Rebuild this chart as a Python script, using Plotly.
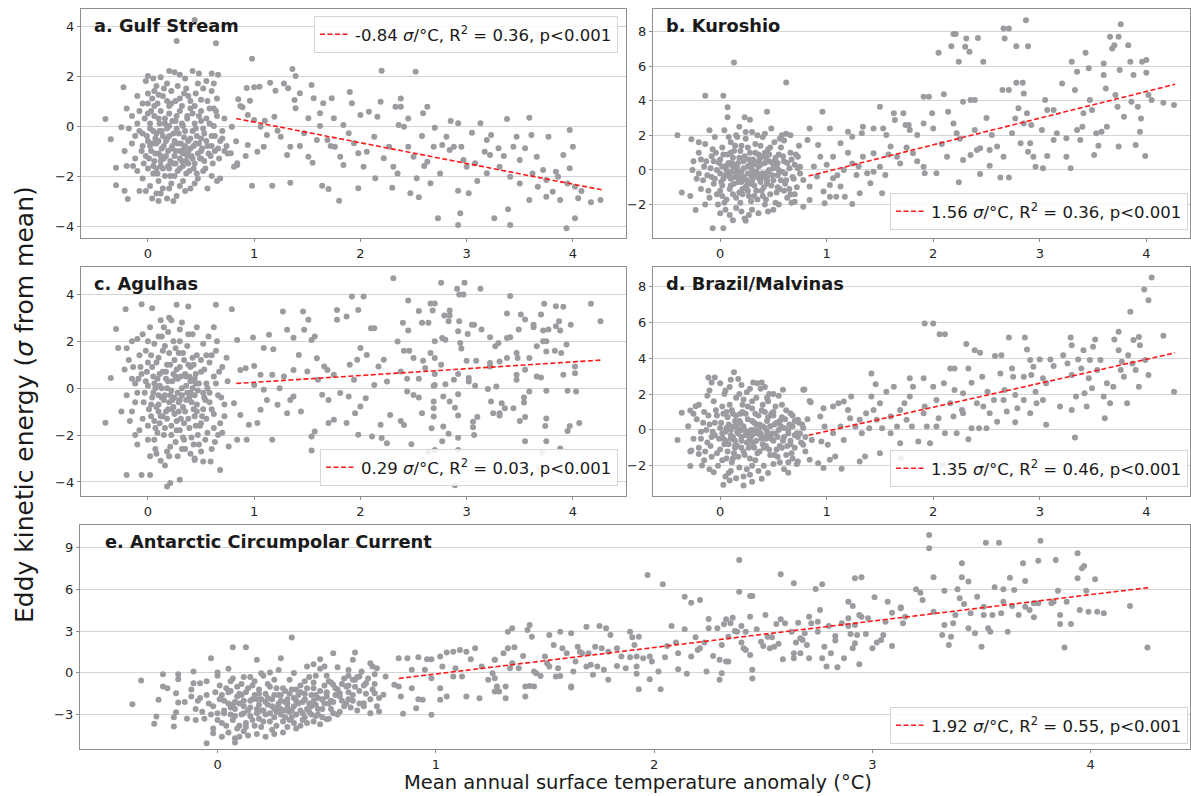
import plotly.graph_objects as go

# ---------------- data ----------------
x_ticks = [0, 1, 2, 3, 4]

gulf_stream = [
 (-0.40,0.28),(-0.35,-0.53),(-0.30,-2.37),(-0.30,-1.67),(-0.23,1.55),(-0.22,-2.59),(-0.19,-2.92),
 (0.27,3.40),(0.44,4.24),(0.64,3.31),(0.98,2.69),(1.36,2.28),(1.39,2.00),(2.20,2.21),(1.80,-2.99),
 (1.70,-2.52),(0.98,-2.39),(1.17,-2.39),(1.34,-2.27),(1.64,-2.39),(1.98,-2.49),(2.14,-2.09),(2.30,-2.47),(2.35,-1.90),
 (0.0,2.0),(0.05,1.9),(0.12,1.95),(0.2,2.2),(0.25,2.15),(0.3,2.05),(0.35,1.9),(0.42,2.2),(0.48,2.1),(0.55,1.8),
 (0.6,2.1),(0.66,2.05),(-0.02,1.8),(0.08,1.6),(0.15,1.5),(0.22,1.4),(0.28,1.6),(0.36,1.5),(0.45,1.3),(0.52,1.5),
 (0.6,1.4),(0.65,1.1),(0.0,1.3),(0.04,1.1),(0.1,1.25),(0.18,1.0),(0.3,1.1),(0.4,1.0),(0.5,1.05),(-0.1,1.2),
 (-0.05,0.9),(0.62,0.7),(-0.2,0.7),(-0.15,0.4),(-0.1,0.1),(-0.08,0.6),(0.0,0.5),(0.02,0.1),(0.06,0.8),(0.1,0.3),
 (0.12,0.6),(0.16,0.1),(0.2,0.5),(0.22,0.9),(0.26,0.2),(0.3,0.6),(0.33,0.0),(0.37,0.4),(0.4,0.7),(0.44,0.1),
 (0.48,0.4),(0.52,-0.1),(0.55,0.3),(0.58,0.7),(0.62,0.0),(0.65,0.4),(0.7,-0.2),(0.72,0.3),(-0.05,-0.3),(0.05,-0.2),
 (0.14,-0.4),(0.24,-0.3),(0.34,-0.45),(0.42,-0.2),(0.5,-0.5),(0.6,-0.4),(0.68,-0.6),(-0.18,-0.1),(-0.25,-0.05),
 (-0.22,-1.0),(-0.15,-0.7),(-0.12,-1.3),(-0.05,-0.8),(-0.02,-1.2),(0.0,-0.6),(0.03,-1.0),(0.06,-1.4),(0.08,-0.7),
 (0.1,-1.1),(0.13,-0.9),(0.15,-1.3),(0.17,-0.6),(0.19,-1.0),(0.21,-1.4),(0.23,-0.8),(0.25,-1.2),(0.28,-0.7),
 (0.3,-1.0),(0.32,-1.4),(0.35,-0.8),(0.37,-1.2),(0.4,-0.9),(0.42,-1.3),(0.45,-0.7),(0.47,-1.1),(0.5,-1.0),
 (0.53,-1.4),(0.56,-0.8),(0.59,-1.2),(0.63,-1.0),(0.67,-1.3),(0.72,-1.0),(0.75,-1.1),(-0.2,-1.6),(-0.1,-1.8),
 (-0.05,-2.1),(0.0,-1.7),(0.02,-2.4),(0.05,-1.9),(0.08,-2.7),(0.1,-2.2),(0.12,-1.6),(0.14,-2.5),(0.16,-2.0),
 (0.18,-2.9),(0.2,-1.7),(0.22,-2.3),(0.25,-2.0),(0.27,-2.8),(0.3,-1.7),(0.33,-2.2),(0.36,-1.9),(0.4,-2.5),
 (0.43,-1.7),(0.47,-2.1),(0.52,-1.8),(0.6,-2.0),(0.65,-2.2),(0.68,-2.1),(0.04,-2.9),(0.1,-3.0),(0.24,-3.0),
 (-0.08,-2.6),(0.35,-2.6),(0.07,-0.5),(0.11,-0.2),(0.18,-0.5),(0.27,-0.1),(0.38,-0.6),(0.46,-0.4),(0.02,-0.8),
 (0.12,-1.2),(0.26,-1.5),(0.38,-1.5),(0.5,-1.3),(0.2,0.0),(0.08,-1.7),(0.33,-1.1),
 (-0.08,-0.2),(-0.06,-1.0),(-0.04,-1.5),(-0.03,0.3),(-0.01,-0.4),(0.01,-1.3),(0.02,-0.1),(0.04,-0.7),(0.05,-1.6),
 (0.06,0.4),(0.07,-1.1),(0.08,-0.3),(0.09,-1.9),(0.1,-0.6),(0.11,0.1),(0.12,-1.4),(0.13,-0.2),(0.14,-1.7),
 (0.15,-0.8),(0.16,0.3),(0.17,-1.2),(0.18,-0.1),(0.19,-1.6),(0.2,-0.4),(0.21,-2.0),(0.22,-0.9),(0.23,0.2),
 (0.24,-1.5),(0.25,-0.6),(0.26,-1.0),(0.27,0.4),(0.28,-1.8),(0.29,-0.3),(0.3,-1.3),(0.31,-0.7),(0.32,0.1),
 (0.33,-1.6),(0.34,-0.9),(0.35,-0.2),(0.36,-1.4),(0.37,0.3),(0.38,-1.0),(0.39,-1.8),(0.4,-0.5),(0.41,-1.2),
 (0.42,0.5),(0.43,-0.8),(0.44,-1.5),(0.45,-0.1),(0.46,-1.9),(0.48,-0.7),(0.49,-1.3),(0.5,0.2),(0.51,-0.9),
 (0.53,-0.3),(0.54,-1.7),(0.55,-0.6),(0.57,-1.1),(0.58,0.1),(0.6,-0.8),(0.61,-1.5),(0.63,-0.4),(0.64,0.6),
 (0.66,-0.9),(0.7,-0.5),(0.74,-0.8),(0.0,0.9),(0.06,1.4),(0.14,1.2),(0.2,0.8),(0.26,1.0),(0.32,0.8),(0.38,1.2),
 (0.44,0.8),(0.5,0.6),(0.56,1.0),(-0.12,-0.4),(-0.14,-1.6),(-0.02,-2.6),(0.12,-2.7),(0.2,-2.5),(0.3,-2.4),
 (0.44,-2.3),(0.56,-2.5),(0.03,0.6),(0.09,0.9),(0.18,1.7),(0.34,1.3),(0.47,1.7),(0.62,1.7),
 (0.85,1.07),(0.87,0.8),(0.89,0.75),(0.93,1.52),(0.96,1.01),(1.0,1.55),(1.05,1.57),(0.94,0.44),(1.0,0.24),
 (1.1,0.21),(1.15,1.73),(1.2,1.41),(1.28,1.7),(1.32,1.51),(1.38,1.04),(1.43,1.31),(1.54,1.64),(1.56,1.11),
 (1.65,0.91),(1.73,1.11),(1.9,1.36),(1.92,0.91),(2.0,0.44),(2.08,0.57),(2.16,0.37),(2.19,0.97),(2.33,0.77),
 (0.79,-0.03),(0.83,-0.61),(0.84,-1.49),(0.84,-1.56),(0.92,-1.2),(0.94,-0.76),(1.03,-1.03),(1.09,-0.83),
 (1.12,-0.36),(1.22,-0.19),(1.25,-0.43),(1.31,-1.16),(1.34,-0.83),(1.43,-0.8),(1.47,-0.29),(1.51,-1.23),
 (1.55,-1.47),(1.59,-0.56),(1.62,0.0),(1.69,-0.56),(1.72,-0.8),(1.76,-0.83),(1.81,-1.23),(1.84,-1.56),
 (1.89,-0.29),(1.94,-0.69),(1.98,-1.09),(2.03,-1.63),(2.06,-1.03),(2.13,-0.43),(2.22,-1.29),(2.27,-0.83),
 (2.31,-1.63),(2.36,0.04),(1.39,0.71),(1.51,0.31),(1.62,0.51),(1.75,0.31),(1.84,0.04),(1.06,-0.03),(1.19,0.37),
 (0.78,-1.09),(0.81,-1.63),
 (2.52,2.17),(2.38,1.1),(2.38,0.77),(2.41,-0.03),(2.59,0.51),(2.63,0.77),(2.7,-0.07),(2.45,-0.83),(2.5,-1.23),
 (2.53,-2.09),(2.47,-2.69),(2.55,-2.85),(2.66,-2.29),(2.73,-3.69),(2.63,-1.43),(2.69,-0.83),(2.77,-0.76),
 (2.81,-0.43),(2.88,-0.83),(2.92,0.11),(2.94,-3.49),(2.92,-3.96),(2.92,-2.59),(3.02,-2.69),(3.05,-0.27),
 (3.13,0.11),(3.08,-1.49),(3.0,-1.63),(3.19,-1.89),(3.23,-0.36),(3.26,-3.69),(3.3,-0.89),(3.31,-1.63),
 (3.38,0.28),(3.41,-3.96),(3.39,-3.33),(3.47,-0.43),(3.44,-0.83),(3.5,-1.36),(3.59,0.33),(3.55,-0.89),
 (3.61,-0.36),(3.66,-1.23),(3.67,-2.43),(3.59,-2.96),(3.75,-2.83),(3.75,-2.16),(3.72,-1.76),(3.77,-0.43),
 (3.84,-1.83),(3.88,-2.96),(3.91,-1.16),(3.94,-4.09),(3.97,-0.16),(3.97,-1.69),(4.0,-0.83),(4.02,-2.43),
 (4.02,-3.69),(4.05,-2.89),(4.08,-2.6),(4.17,-3.05),(4.26,-2.96),(3.86,-2.03),(3.81,-2.63),(3.41,-2.03),
 (3.17,-1.03),(3.22,-1.16),(2.84,-0.96),(2.97,-1.36),(3.19,-0.56),(2.95,-0.83),(2.6,-1.6),(2.75,-1.9),
 (3.1,-2.2),(3.5,-2.3),(3.62,-1.9),(2.45,0.3),(2.85,0.2),(3.35,-1.2),(3.95,-2.3),(2.58,-0.4),
]

kuroshio = [
 (0.13,6.21),(0.03,4.29),(-0.14,4.29),(0.07,3.62),(0.07,3.04),(0.62,5.06),(0.44,3.37),(0.23,3.04),(0.28,2.9),
 (-0.4,2.0),(-0.27,1.77),(-0.36,-1.3),(-0.23,-2.31),(0.03,-3.37),(-0.07,-3.37),(0.24,-2.94),
 (-0.25,0.5),(-0.22,-0.5),(-0.2,1.0),(-0.18,-1.1),(-0.15,0.2),(-0.14,1.5),(-0.12,-0.3),(-0.1,-1.6),(-0.08,0.8),
 (-0.06,-0.8),(-0.05,1.9),(-0.03,0.0),(-0.02,-2.0),(0.0,0.6),(0.0,-1.2),(0.02,1.3),(0.03,-0.5),(0.04,2.3),
 (0.05,0.2),(0.06,-1.7),(0.07,0.9),(0.08,-0.2),(0.09,-2.6),(0.1,1.6),(0.1,-0.9),(0.11,0.4),(0.12,-1.4),
 (0.13,1.1),(0.14,-0.4),(0.15,2.0),(0.15,-2.2),(0.16,0.1),(0.17,-0.7),(0.18,0.7),(0.19,-1.9),(0.2,1.4),
 (0.2,-0.1),(0.21,-1.1),(0.22,0.5),(0.23,-2.8),(0.24,1.8),(0.25,-0.6),(0.26,0.2),(0.27,-1.5),(0.28,1.0),
 (0.29,-0.3),(0.3,2.2),(0.3,-2.3),(0.31,0.6),(0.32,-0.9),(0.33,1.5),(0.34,-0.1),(0.35,-1.7),(0.36,0.9),
 (0.37,-0.5),(0.38,0.3),(0.39,-1.2),(0.4,1.9),(0.41,-0.2),(0.42,-2.0),(0.43,0.7),(0.44,-0.8),(0.45,1.2),
 (0.46,0.0),(0.47,-1.4),(0.48,2.4),(0.49,0.4),(0.5,-0.6),(0.51,1.6),(0.52,-1.9),(0.53,0.2),(0.54,-0.3),
 (0.55,0.9),(0.56,-1.1),(0.57,1.3),(0.58,-0.1),(0.6,0.5),(0.61,-0.8),(0.62,2.1),(0.63,-1.6),(0.65,0.1),
 (0.66,1.0),(0.68,-0.4),(0.7,0.3),(0.72,-1.0),(0.74,1.4),(0.75,-0.2),(-0.28,-1.5),(-0.26,0.0),(-0.1,2.3),
 (0.05,-2.3),(0.12,-2.9),(0.18,2.5),(0.27,-2.6),(0.35,2.0),(0.45,-2.4),(0.55,-2.0),(0.58,2.0),(0.67,-1.9),
 (0.0,-0.2),(0.08,0.4),(0.14,0.3),(0.22,-0.4),(0.3,0.0),(0.38,-0.7),(0.46,0.5),(0.54,-1.0),(0.62,-0.6),
 (-0.04,1.0),(0.02,-0.9),(0.1,-0.5),(0.18,-1.3),(0.26,1.3),(0.34,0.4),(0.42,1.0),(0.5,0.1),(0.6,1.7),
 (0.7,-1.4),(0.02,-1.5),(0.24,-1.0),(0.4,-1.5),(-0.18,0.6),(-0.2,-0.2),(0.16,1.9),(0.44,-0.4),(0.52,0.7),
 (0.06,0.0),(0.32,-0.3),(0.12,0.2),(0.28,-0.8),(0.36,0.2),(0.4,-0.4),(0.2,-0.7),(-0.08,-0.4),(0.16,-0.2),
 (-0.16,-0.6),(-0.13,0.5),(-0.11,-1.2),(-0.09,0.1),(-0.07,1.2),(-0.05,-0.5),(-0.03,-1.4),(-0.01,0.4),(0.01,-0.7),
 (0.03,0.9),(0.04,-1.9),(0.05,-0.3),(0.07,0.3),(0.09,-1.1),(0.1,1.0),(0.11,-0.1),(0.13,-0.8),(0.14,1.4),
 (0.15,-1.6),(0.17,0.4),(0.18,-0.4),(0.19,1.1),(0.21,-1.4),(0.22,0.1),(0.23,0.8),(0.25,-0.9),(0.26,-0.2),
 (0.27,0.6),(0.29,-1.8),(0.3,-0.6),(0.31,0.3),(0.33,1.0),(0.34,-1.2),(0.35,-0.4),(0.37,0.6),(0.38,1.4),
 (0.39,-0.2),(0.41,-1.0),(0.42,0.4),(0.43,-1.7),(0.45,-0.1),(0.46,0.9),(0.48,-0.9),(0.49,-0.3),(0.51,0.5),
 (0.53,-1.3),(0.55,0.0),(0.57,-0.6),(0.59,0.8),(0.61,-0.2),(0.63,0.4),(0.65,-1.1),(0.67,0.6),(0.69,-0.5),
 (0.71,0.9),(0.73,0.1),(-0.14,-2.0),(0.0,-2.5),(0.2,-2.4),(0.36,-2.5),(0.5,-2.3),(0.08,1.9),(0.24,2.2),
 (0.42,2.1),(0.56,1.8),(-0.2,1.6),(0.66,-1.4),(0.12,0.7),(0.28,0.3),(0.44,-0.6),(0.02,0.2),(0.16,-0.1),
 (0.32,-1.5),(0.47,1.3),(0.6,-1.2),(-0.06,0.5),(0.09,-0.4),(0.26,-1.2),(0.4,0.8),(0.54,0.4),
 (0.96,3.37),(1.03,2.4),(0.84,2.4),(0.66,2.0),(0.82,1.73),(0.92,1.44),(0.94,0.77),(1.06,0.77),(1.13,1.54),
 (1.2,2.21),(1.24,1.92),(1.33,2.12),(1.34,2.5),(1.44,2.4),(1.5,3.65),(1.53,2.4),(1.56,2.02),(1.6,1.35),
 (1.63,3.27),(1.64,2.88),(1.72,3.27),(1.74,2.6),(1.77,2.6),(1.78,2.31),(1.85,2.02),(1.91,2.69),(1.91,4.23),
 (1.96,4.23),(1.99,3.27),(2.0,2.4),(2.05,6.77),(2.1,4.38),(2.17,7.15),(2.19,7.85),(2.21,7.85),(2.24,6.25),
 (2.14,3.37),(2.19,2.69),(2.22,2.12),(2.24,-0.71),(2.28,3.94),(2.3,7.12),(2.31,7.6),(2.34,6.83),(2.35,4.04),
 (2.39,4.04),(2.42,7.63),(2.47,6.25),(2.44,-0.23),(2.39,2.31),(2.35,0.87),(2.44,1.25),(2.53,1.15),(2.53,0.25),
 (2.55,2.02),(2.63,-0.44),(2.71,-0.44),(2.66,8.17),(2.71,8.17),(2.67,7.6),(2.65,4.62),(2.71,4.62),(2.78,5.04),
 (2.84,5.04),(2.78,7.15),(2.87,8.65),(2.89,7.15),(2.85,4.42),(2.8,3.56),(2.77,2.98),(2.88,3.27),(2.82,1.54),
 (2.91,1.54),(2.89,1.06),(2.94,0.77),(2.96,0.19),(3.03,0.1),(3.07,0.81),(3.02,2.31),(3.07,3.46),(3.05,4.04),
 (3.13,3.46),(3.21,5.0),(3.25,1.83),(3.25,0.77),(3.29,0.1),(3.3,6.25),(3.33,4.62),(3.35,5.67),(3.35,2.31),
 (3.4,2.5),(3.41,3.27),(3.43,6.77),(3.46,5.87),(3.47,4.04),(3.49,3.46),(3.51,0.87),(3.53,2.12),(3.55,1.4),
 (3.6,6.15),(3.6,5.48),(3.62,4.71),(3.66,7.69),(3.68,7.02),(3.7,7.21),(3.71,4.33),(3.73,3.65),(3.74,7.69),
 (3.76,8.42),(3.75,5.77),(3.74,1.35),(3.79,3.08),(3.83,7.21),(3.85,6.25),(3.86,3.94),(3.88,5.48),(3.9,1.44),
 (3.92,3.65),(3.95,2.98),(3.96,6.25),(4.0,5.62),(4.0,6.35),(4.02,4.33),(4.05,4.04),(3.99,0.81),(3.94,2.21),
 (4.16,3.88),(4.26,3.75),(3.58,2.21),(3.63,2.5),(3.38,1.73),(3.13,1.73),(3.16,2.12),(2.6,1.35),(2.66,0.77),
 (2.74,2.12),(2.85,2.69),(2.92,2.6),(2.41,1.15),(2.28,0.58),(2.13,0.77),(2.03,-0.19),(1.91,0.19),(1.92,-0.19),
 (1.81,0.96),(1.69,0.38),(1.66,0.77),(1.55,-0.29),(1.5,0.19),(1.44,-0.1),(1.38,-0.19),(1.44,0.96),(1.34,0.77),
 (1.28,-0.29),(1.24,0.38),(1.16,0.0),(1.13,-0.96),(1.09,-1.54),(1.24,-1.96),(1.06,-0.48),(1.03,-0.87),
 (0.98,-1.92),(0.97,-1.25),(0.91,-0.38),(0.84,-1.73),(0.84,-0.96),(0.78,-0.58),(0.75,0.19),(0.73,0.77),
 (0.7,-1.83),(0.78,-2.12),(1.52,-1.35),(1.41,-0.77),(1.31,-1.35),(1.17,-1.54),(1.03,-1.54),(0.88,0.2),
 (1.0,0.3),(1.1,-0.3),(1.2,1.0),(1.3,0.2),(1.58,0.9),(1.75,1.3),(1.85,0.5),(2.08,1.5),(2.25,1.8),(2.5,3.0),
]

agulhas = [
 (-0.4,-1.47),(-0.35,0.43),(-0.3,2.52),(-0.28,1.71),(-0.21,3.37),(-0.2,-3.7),(-0.06,-3.7),(-0.06,3.58),
 (0.04,3.41),(0.18,-4.2),(0.21,-4.05),(0.3,-3.91),(0.27,3.56),(0.38,3.49),(0.44,-3.06),(0.52,-3.13),
 (0.59,-3.13),(0.68,-3.49),(0.64,3.56),(0.79,3.37),
 (-0.22,0.8),(-0.2,-0.3),(-0.18,1.2),(-0.15,-1.0),(-0.12,0.2),(-0.1,2.1),(-0.08,-1.8),(-0.06,0.6),(-0.04,-0.6),
 (-0.02,1.6),(0.0,-2.2),(0.0,0.1),(0.02,2.6),(0.03,-1.2),(0.04,0.9),(0.05,-0.2),(0.06,1.9),(0.07,-2.6),
 (0.08,-0.8),(0.09,0.4),(0.1,1.3),(0.11,-1.5),(0.12,2.9),(0.13,-0.4),(0.14,0.7),(0.15,-2.0),(0.16,1.8),
 (0.17,-1.0),(0.18,0.0),(0.19,2.4),(0.2,-2.9),(0.2,-0.6),(0.21,1.0),(0.22,-1.6),(0.23,0.3),(0.24,2.0),
 (0.25,-1.1),(0.26,-2.3),(0.27,0.8),(0.28,-0.2),(0.29,1.5),(0.3,-1.8),(0.31,0.5),(0.32,2.8),(0.33,-0.8),
 (0.34,1.2),(0.35,-2.6),(0.36,0.1),(0.37,1.8),(0.38,-1.3),(0.39,-0.4),(0.4,0.9),(0.41,-2.1),(0.42,2.3),
 (0.43,-0.9),(0.44,0.4),(0.45,-1.6),(0.46,1.4),(0.47,-0.1),(0.48,-2.4),(0.5,0.7),(0.51,-1.2),(0.52,1.9),
 (0.54,-0.5),(0.55,0.2),(0.56,-1.9),(0.58,1.1),(0.6,-0.9),(0.62,0.5),(0.63,-2.3),(0.64,1.6),(0.66,-0.3),
 (0.68,-1.5),(0.7,0.9),(0.72,-0.7),(0.75,0.3),(-0.2,1.7),(-0.15,2.0),(-0.05,2.3),(0.02,-2.9),(0.08,-2.8),
 (0.12,-3.1),(0.15,2.6),(0.22,2.9),(0.28,-2.9),(0.3,2.5),(0.38,2.3),(0.4,-2.8),(0.5,-2.7),(0.55,1.4),
 (0.6,-2.6),(0.65,2.0),(-0.25,-1.0),(-0.1,-2.4),(0.0,1.1),(0.05,0.5),(0.1,-0.3),(0.14,-1.2),(0.18,1.0),
 (0.22,-0.1),(0.26,0.5),(0.3,-0.5),(0.34,-1.5),(0.42,0.0),(0.46,-0.7),(0.5,-1.5),(0.58,-0.2),(0.62,-1.1),
 (0.7,-1.9),(-0.12,-0.6),(-0.02,0.3),(0.06,-1.4),(0.16,-0.3),(0.24,-0.8),(0.32,0.0),(0.36,-0.5),(0.44,-1.2),
 (0.52,-0.9),(0.03,-0.7),(0.11,0.1),(0.19,-0.9),(0.27,-1.4),(0.35,0.6),(0.43,1.0),(0.09,-1.9),(0.21,-2.5),
 (0.33,-2.1),(0.47,-2.0),(-0.15,0.4),(0.0,-1.6),(0.25,1.2),(0.4,-0.2),(-0.08,1.4),(0.13,2.2),(0.57,2.2),
 (0.62,2.6),(0.07,0.0),(0.17,0.4),(0.29,-1.0),(0.39,0.5),(0.53,-0.4),(0.1,-1.0),(0.23,-0.5),(0.45,0.2),
 (-0.1,-0.2),(-0.07,0.9),(-0.05,-1.3),(-0.03,-0.2),(-0.01,0.7),(0.01,-0.9),(0.03,1.4),(0.04,-0.4),(0.06,0.2),
 (0.07,-1.7),(0.08,1.1),(0.1,-0.7),(0.11,0.6),(0.12,-1.2),(0.13,0.0),(0.14,1.6),(0.15,-0.5),(0.16,-1.7),
 (0.17,0.7),(0.18,-1.3),(0.19,0.3),(0.2,1.5),(0.21,-0.3),(0.22,-2.0),(0.23,-0.9),(0.24,0.6),(0.25,-0.4),
 (0.26,1.7),(0.27,-1.8),(0.28,0.4),(0.29,-0.6),(0.3,0.9),(0.31,-1.3),(0.32,-0.3),(0.33,1.5),(0.34,-2.2),
 (0.35,-1.0),(0.36,0.5),(0.37,-0.2),(0.38,1.0),(0.39,-1.7),(0.4,0.3),(0.41,-0.6),(0.42,1.3),(0.43,-2.4),
 (0.44,-0.3),(0.45,0.6),(0.46,-1.0),(0.48,0.2),(0.49,-1.6),(0.5,1.2),(0.52,-0.2),(0.53,0.8),(0.55,-1.3),
 (0.56,0.0),(0.58,-0.6),(0.6,1.4),(0.62,-1.7),(0.64,0.2),(0.67,0.7),(0.69,-0.4),(0.72,-1.2),(0.74,1.3),
 (-0.17,-1.4),(-0.14,0.9),(-0.12,-2.0),(-0.09,0.4),(0.0,2.0),(0.1,2.2),(0.2,3.0),(0.3,2.0),(0.46,2.6),
 (0.06,-2.2),(0.18,-2.7),(0.32,-2.6),(0.44,-3.0),(0.54,-2.2),(0.66,-2.0),(0.02,-3.7),(0.16,-3.3),
 (0.84,2.06),(0.99,2.16),(1.0,0.95),(1.09,1.71),(1.14,2.28),(1.18,1.66),(1.27,3.27),(1.31,2.49),(1.37,2.15),
 (1.46,3.27),(1.47,2.49),(1.51,2.92),(1.54,2.06),(1.57,2.2),(1.5,0.71),(1.6,0.36),(1.69,0.78),(1.78,3.34),
 (1.78,2.92),(1.87,3.06),(1.92,3.91),(1.98,3.34),(2.03,3.91),(2.0,1.71),(2.06,1.42),(2.1,2.56),(2.13,2.56),
 (2.35,1.99),(2.31,4.69),(1.54,-2.06),(1.54,-2.66),(1.57,-1.85),(1.98,-1.99),(2.11,-2.06),(2.19,-1.56),
 (2.2,-2.13),(2.25,-2.35),(2.28,-1.14),(1.87,-1.49),(1.75,-1.35),(1.7,-1.49),(1.7,-0.5),(1.64,-0.28),
 (1.81,-0.21),(1.89,-0.36),(1.95,-1.07),(2.0,-0.78),(2.05,-0.43),(1.44,-1.0),(1.37,-0.36),(1.31,-1.07),
 (1.24,0.0),(1.22,-0.71),(1.12,-0.5),(1.06,-0.92),(1.03,-1.49),(0.95,-1.56),(0.93,-2.2),(0.84,-2.2),
 (0.87,-1.14),(0.81,-0.64),(0.76,-2.49),(1.17,-2.2),(1.34,-0.5),(1.75,0.57),(1.9,1.0),(1.97,1.21),(2.17,0.92),
 (2.22,1.21),(2.25,0.28),(2.13,0.14),(1.37,0.78),(1.28,0.5),(1.17,0.57),(1.06,0.57),(0.92,0.85),(0.87,0.78),
 (1.0,0.14),(1.09,-0.07),(1.42,1.42),(1.59,1.28),(1.66,0.92),(1.94,0.36),
 (2.76,4.5),(2.91,4.24),(2.98,4.5),(2.93,4.0),(2.97,4.0),(3.13,4.24),(3.41,3.93),(2.45,3.74),(2.66,3.61),
 (2.7,3.61),(2.55,3.29),(2.68,3.31),(2.79,3.1),(2.84,3.31),(2.84,3.1),(2.4,2.79),(2.58,2.79),(2.64,2.79),
 (2.83,2.86),(2.93,2.86),(3.05,2.71),(3.07,2.71),(3.01,2.31),(3.14,2.5),(2.92,2.43),(2.45,2.46),(3.38,3.19),
 (3.51,3.14),(3.55,2.93),(3.49,2.5),(3.41,2.17),(3.38,2.14),(3.22,2.17),(3.27,1.79),(3.3,1.93),(3.47,1.5),
 (3.63,2.71),(3.63,2.6),(3.7,3.14),(3.73,3.6),(3.84,3.5),(3.91,3.47),(3.72,2.46),(3.77,2.5),(3.84,2.64),
 (3.87,2.86),(3.88,2.46),(3.98,2.71),(4.17,3.6),(4.26,2.86),(3.66,1.79),(3.72,2.0),(3.75,2.0),(3.75,1.57),
 (3.83,1.6),(3.94,1.86),(3.89,1.5),(3.59,1.29),(3.48,1.29),(3.38,1.29),(3.31,1.14),(3.22,1.07),(3.09,1.17),
 (3.0,1.17),(2.94,1.93),(2.95,1.69),(2.7,2.0),(2.77,2.14),(2.8,2.07),(2.66,1.5),(2.7,1.29),(2.59,1.17),
 (2.5,1.29),(2.46,1.6),(2.41,1.6),(2.76,1.0),(2.61,0.86),(2.38,0.71),(2.44,0.4),(2.55,0.4),(2.7,0.6),
 (2.8,0.17),(2.7,0.14),(2.69,0.1),(2.88,0.36),(2.92,0.6),(3.02,0.43),(3.02,0.29),(3.08,0.1),(3.22,0.93),
 (3.47,0.57),(3.47,0.36),(3.55,0.79),(3.66,0.5),(3.7,0.46),(3.91,0.57),(4.02,0.93),(4.02,0.64),(3.2,-0.03),
 (3.28,0.07),(2.44,-0.14),(2.5,-0.29),(2.55,-0.4),(2.69,-0.57),(2.69,-0.86),(2.78,-0.36),(2.84,-0.57),
 (2.89,-0.83),(2.92,-0.26),(3.23,-0.57),(3.33,-0.64),(3.36,-0.86),(3.44,-0.86),(3.31,-1.07),(3.31,-1.17),
 (3.25,-1.07),(3.54,-0.4),(3.54,-0.61),(3.59,-0.14),(3.75,-0.11),(3.95,-0.11),(4.03,-0.14),(2.38,-1.4),
 (2.41,-1.57),(2.58,-1.07),(2.69,-1.21),(2.67,-1.71),(2.78,-1.64),(2.92,-1.17),(3.06,-1.43),(3.06,-1.67),
 (3.1,-1.23),(3.07,-2.0),(3.5,-1.4),(3.55,-1.23),(3.75,-1.29),(3.74,-1.61),(3.97,-1.61),(3.95,-1.83),
 (4.06,-1.49),(2.48,-2.39),(2.64,-2.71),(2.7,-2.64),(2.77,-2.26),(2.83,-1.94),(2.92,-2.11),(2.92,-2.64),
 (3.55,-2.26),(3.71,-2.76),(3.75,-2.26),(3.88,-2.57),(2.89,-4.14),
]

brazil_malvinas = [
 (-0.4,-0.56),(-0.36,0.95),(-0.28,-2.02),(-0.27,-1.15),(-0.28,1.08),(-0.23,1.32),(-0.2,-1.34),(-0.11,2.93),
 (-0.05,2.93),(-0.08,2.65),(0.03,-3.06),(0.09,-2.82),(0.13,3.21),(0.17,2.84),(0.22,-3.1),(0.31,2.65),
 (0.39,2.65),(0.59,2.24),(0.78,2.24),(0.64,-2.39),(0.85,1.54),(0.39,-2.73),(-0.06,-2.36),(-0.17,-1.99),
 (-0.3,0.2),(-0.25,-0.5),(-0.22,0.6),(-0.2,-1.0),(-0.18,-0.1),(-0.15,1.0),(-0.12,-0.7),(-0.1,0.3),(-0.08,-1.5),
 (-0.06,1.6),(-0.05,-0.3),(-0.03,0.8),(-0.02,-2.0),(0.0,0.1),(0.0,-1.1),(0.02,1.3),(0.03,-0.5),(0.04,2.0),
 (0.05,-0.1),(0.06,-1.6),(0.07,0.7),(0.08,-0.8),(0.09,2.4),(0.1,0.0),(0.1,-2.3),(0.11,1.1),(0.12,-0.4),
 (0.13,-1.3),(0.14,0.5),(0.15,1.8),(0.16,-0.9),(0.17,-0.2),(0.18,-2.1),(0.19,0.9),(0.2,-0.6),(0.21,1.4),
 (0.22,0.2),(0.23,-1.4),(0.24,-0.3),(0.25,2.1),(0.26,0.6),(0.27,-1.0),(0.28,-2.5),(0.29,0.0),(0.3,1.2),
 (0.31,-0.7),(0.32,0.4),(0.33,-1.7),(0.34,1.8),(0.35,-0.2),(0.36,0.8),(0.37,-1.2),(0.38,2.3),(0.39,-0.5),
 (0.4,0.2),(0.41,-2.0),(0.42,1.0),(0.43,-0.9),(0.44,0.5),(0.45,1.6),(0.46,-0.3),(0.47,-1.4),(0.48,0.9),
 (0.5,-0.6),(0.51,0.3),(0.52,1.3),(0.53,-1.1),(0.55,0.0),(0.56,-1.8),(0.58,0.7),(0.6,-0.4),(0.62,1.1),
 (0.63,-0.9),(0.65,0.3),(0.67,-1.3),(0.68,0.8),(0.7,-0.3),(0.72,-1.9),(0.74,0.4),(0.76,-0.7),(0.78,0.1),
 (0.8,-1.2),(0.82,0.6),(-0.28,-1.2),(-0.2,1.4),(-0.1,2.2),(0.0,2.6),(0.05,-2.6),(0.1,2.8),(0.15,-2.7),
 (0.2,2.5),(0.25,-2.2),(0.3,-2.9),(0.35,2.6),(0.45,-2.4),(0.5,2.0),(0.55,1.9),(0.6,-2.2),(-0.15,-1.7),
 (-0.05,0.4),(0.02,-0.2),(0.08,0.3),(0.12,0.9),(0.16,0.2),(0.2,-1.0),(0.24,0.9),(0.28,-0.5),(0.32,-1.0),
 (0.36,0.0),(0.4,-0.8),(0.44,-0.1),(0.48,-0.5),(0.52,-0.2),(0.56,0.5),(0.6,0.1),(0.64,-0.2),(0.7,0.5),
 (0.75,-0.2),(-0.08,-0.4),(0.04,-0.8),(0.14,-0.6),(0.18,0.5),(0.26,-0.1),(0.34,0.3),(0.42,-0.4),(0.5,0.8),
 (0.58,-1.0),(0.66,-0.6),(0.06,1.0),(0.22,1.7),(0.3,1.6),(0.4,1.4),(0.46,2.0),(0.54,-1.5),(0.68,-1.6),
 (-0.25,0.9),(0.1,-0.5),(0.2,0.0),(0.3,-0.3),(0.38,-0.2),(0.14,-1.0),(0.26,-0.7),
 (-0.18,-0.5),(-0.16,0.4),(-0.14,-1.2),(-0.13,0.0),(-0.11,0.8),(-0.09,-0.9),(-0.07,-0.1),(-0.04,1.1),
 (-0.03,-1.3),(-0.01,-0.5),(0.01,0.4),(0.02,-1.7),(0.03,0.9),(0.05,-0.6),(0.06,0.1),(0.07,-1.2),(0.09,1.4),
 (0.1,-0.3),(0.11,-1.8),(0.13,0.2),(0.14,-0.9),(0.15,0.8),(0.16,-0.1),(0.17,-1.5),(0.19,0.4),(0.2,-0.4),
 (0.21,1.0),(0.22,-1.2),(0.23,0.0),(0.25,-0.7),(0.26,1.3),(0.27,-0.3),(0.28,-1.6),(0.3,0.5),(0.31,-0.9),
 (0.32,0.0),(0.33,0.9),(0.34,-0.6),(0.35,-1.3),(0.37,0.3),(0.38,-0.3),(0.39,1.1),(0.41,-1.0),(0.42,0.1),
 (0.43,-0.5),(0.45,0.7),(0.46,-1.1),(0.47,0.2),(0.49,-0.2),(0.5,1.0),(0.51,-1.4),(0.53,0.4),(0.54,-0.4),
 (0.56,-0.9),(0.57,0.2),(0.59,-0.6),(0.61,0.6),(0.62,-1.4),(0.64,0.0),(0.66,-0.8),(0.68,0.2),(0.7,-1.0),
 (0.73,-0.4),(0.77,0.3),(0.8,-0.4),(-0.12,1.9),(0.05,2.2),(0.18,2.0),(0.28,2.3),(0.42,2.4),(-0.1,-2.2),
 (0.08,-2.4),(0.22,-2.6),(0.36,-2.3),(0.5,-1.9),(0.64,-1.8),(0.12,-1.6),(0.3,-2.0),(0.44,1.8),(0.58,1.4),
 (0.79,2.26),(0.84,1.61),(0.66,0.93),(0.73,0.56),(0.72,-0.19),(0.78,-0.83),(0.86,-0.56),(0.84,-1.67),
 (0.73,-1.76),(0.92,-1.86),(0.97,-2.13),(1.03,-1.67),(1.08,-1.48),(1.14,-2.17),(0.95,-0.65),(1.01,-0.83),
 (1.06,-0.19),(1.13,0.19),(1.16,-0.56),(0.98,0.19),(0.94,0.74),(0.97,1.21),(1.06,1.3),(1.11,1.48),(1.16,1.58),
 (1.23,1.86),(1.2,1.11),(1.22,0.65),(1.27,0.19),(1.31,0.56),(1.33,-0.19),(1.31,-1.76),(1.36,-1.48),(1.42,3.15),
 (1.42,1.86),(1.44,1.11),(1.46,2.54),(1.5,1.48),(1.52,0.09),(1.5,-1.3),(1.56,2.13),(1.6,0.74),(1.63,2.41),
 (1.66,0.19),(1.69,-0.74),(1.7,-1.58),(1.73,1.48),(1.75,0.56),(1.78,2.88),(1.78,1.86),(1.8,0.19),(1.81,2.41),
 (1.86,-0.65),(1.91,2.88),(1.92,5.94),(2.0,5.94),(1.92,1.3),(1.94,0.19),(1.97,-0.74),(2.0,2.41),(2.03,1.67),
 (2.05,0.65),(2.09,-1.95),(2.06,5.34),(2.11,5.34),(2.1,2.6),(2.11,-0.19),(2.16,3.43),(2.2,3.43),(2.2,2.23),
 (2.19,0.74),(2.22,-0.19),(2.27,1.11),(2.28,2.04),(2.31,4.79),(2.33,3.43),(2.33,-0.52),(2.36,2.63),(2.36,0.09),
 (2.39,4.45),(2.41,1.48),(2.43,0.09),(2.44,4.3),(2.46,2.97),(2.5,0.09),(2.51,2.13),(2.53,0.93),(2.57,1.67),
 (2.58,4.12),(2.63,3.15),(2.64,4.16),(2.66,1.67),(2.67,2.23),(2.69,1.02),(2.71,5.16),(2.74,3.43),(2.75,2.97),
 (2.77,1.95),(2.79,1.21),(2.77,0.43),(2.85,2.97),(2.86,5.16),(2.88,4.49),(2.91,3.9),(2.94,3.53),(2.92,3.06),
 (2.96,2.13),(2.97,1.48),(3.0,3.93),(3.06,0.28),(3.03,2.88),(3.06,2.6),(3.1,3.93),(3.13,3.56),(3.19,1.3),
 (3.22,4.16),(3.26,3.71),(3.29,5.16),(3.3,4.73),(3.3,3.06),(3.3,1.11),(3.33,-0.43),(3.34,1.86),(3.36,3.93),
 (3.39,3.43),(3.41,4.45),(3.42,2.04),(3.44,1.3),(3.46,2.88),(3.47,3.9),(3.49,2.32),(3.5,4.64),(3.52,5.05),
 (3.54,3.34),(3.57,3.9),(3.6,1.86),(3.61,0.65),(3.63,2.6),(3.66,1.48),(3.69,2.41),(3.7,5.05),(3.74,5.47),
 (3.74,4.45),(3.76,3.34),(3.77,3.8),(3.79,2.97),(3.82,1.48),(3.83,4.17),(3.85,6.59),(3.87,3.71),(3.88,5.01),
 (3.9,3.34),(3.93,5.19),(3.94,4.73),(3.93,2.41),(3.98,7.83),(3.99,3.9),(4.02,7.24),(4.02,3.06),(4.05,8.5),
 (4.16,5.25),(4.26,2.13),(3.03,1.67),(2.91,0.93),(2.85,1.67),(2.6,0.46),(2.47,1.3),(2.28,0.93),(2.16,1.48),
 (2.03,0.19),(1.91,0.93),(1.69,1.11),(1.6,-0.19),(1.47,0.56),(1.4,0.09),(1.37,0.93),
]

acc = [
 (-0.39,-2.25),(-0.35,-0.55),(-0.29,-3.67),(-0.28,-3.14),(-0.27,-1.94),(-0.25,-0.1),(-0.25,-0.98),(-0.23,-1.1),
 (-0.2,-3.86),(-0.2,-3.19),(-0.19,-1.46),(-0.18,-0.1),(-0.18,-0.46),(-0.18,-2.13),(-0.19,-2.83),(-0.14,-3.31),
 (-0.11,0.1),(-0.11,-0.74),(-0.12,-1.7),(-0.08,-0.74),(-0.05,-5.06),(-0.03,1.06),(-0.02,-4.34),(0.0,0.02),
 (0.07,1.85),(0.08,-4.7),(0.08,-5.01),(0.13,1.85),(0.18,0.94),(0.29,1.06),(0.34,2.54),(0.2,-0.02),(0.24,0.02),
 (0.41,0.46),(0.44,0.62),(0.47,0.98),(0.49,0.46),(0.53,1.41),(0.63,1.46),(0.62,0.94),(0.7,0.7),(0.71,0.46),
 (0.73,0.34),(0.67,-2.18),(0.74,-2.78),(0.85,-2.95),(0.83,1.06),(0.87,1.06),(0.91,-2.54),(0.98,-3.02),
 (0.92,1.13),(0.96,0.98),(0.98,0.98),(1.02,1.18),(1.05,1.46),(1.08,1.53),(1.11,1.65),(1.14,1.53),(1.18,1.77),
 (1.08,-0.26),(1.12,-0.26),(1.14,-1.7),(1.2,-1.82),(1.24,-0.5),(1.27,0.94),(1.27,-1.34),(1.02,-1.1),
 (1.02,-1.94),(1.05,-1.7),(0.94,-1.94),(0.92,-1.89),(0.89,-1.1),(0.84,-1.7),(0.83,-0.98),(0.81,-0.86),
 (0.77,-0.26),(0.76,-1.58),(0.72,-1.46),(0.68,-0.74),(0.65,-0.26),(0.62,-0.5),(0.59,-0.98),(0.56,-1.46),
 (0.53,-0.86),(0.5,-1.46),(0.48,-1.94),(0.5,-3.33),(0.89,0.22),(0.95,0.22),(0.98,-0.38),(1.03,0.46),
 (1.09,0.34),(1.16,0.98),(1.21,0.46),
 (-0.12,-1.2),(-0.1,-2.6),(-0.08,-1.8),(-0.06,-3.3),(-0.05,-0.6),(-0.04,-2.2),(-0.02,-4.0),(-0.01,-1.4),
 (0.0,-2.9),(0.01,-0.9),(0.02,-3.6),(0.03,-2.0),(0.04,-1.1),(0.05,-4.3),(0.06,-2.5),(0.07,-0.4),(0.08,-3.1),
 (0.09,-1.7),(0.1,-3.8),(0.1,-2.2),(0.11,-0.8),(0.12,-2.9),(0.13,-1.4),(0.14,-4.5),(0.15,-2.0),(0.16,-3.4),
 (0.17,-0.6),(0.18,-2.6),(0.19,-1.2),(0.2,-3.9),(0.2,-1.9),(0.21,-0.2),(0.22,-3.0),(0.23,-2.3),(0.24,-1.0),
 (0.25,-4.1),(0.26,-1.6),(0.27,-2.8),(0.28,0.2),(0.29,-2.0),(0.3,-3.5),(0.31,-1.3),(0.32,-2.5),(0.33,-0.5),
 (0.34,-3.2),(0.35,-1.8),(0.36,-4.0),(0.37,-2.2),(0.38,-0.9),(0.39,-2.9),(0.4,-1.5),(0.41,-3.6),(0.42,-0.3),
 (0.43,-2.4),(0.44,-1.1),(0.45,-3.1),(0.46,-1.8),(0.47,0.3),(0.48,-2.6),(0.5,-1.4),(0.51,-3.3),(0.52,-0.7),
 (0.53,-2.1),(0.55,-1.2),(0.56,-2.8),(0.58,-0.4),(0.6,-1.9),(0.61,-2.5),(0.63,-1.0),(0.65,-2.2),(0.66,0.1),
 (0.68,-1.5),(0.7,-2.9),(0.72,-0.8),(0.74,-1.8),(0.0,-0.2),(0.05,0.3),(0.1,-4.6),(0.18,-4.4),(0.22,-4.6),
 (0.3,-4.3),(0.38,-3.8),(0.47,-3.7),(0.55,-3.0),(0.02,-1.6),(0.06,-3.0),(0.09,-1.0),(0.12,-2.4),(0.15,-3.1),
 (0.17,-1.6),(0.19,-3.3),(0.22,-1.5),(0.25,-2.4),(0.27,-1.1),(0.29,-3.0),(0.32,-1.9),(0.34,-2.7),(0.36,-1.2),
 (0.39,-2.1),(0.41,-2.6),(0.44,-2.0),(0.46,-3.0),(0.49,-0.9),(0.51,-2.2),(0.54,-1.6),(0.57,-2.0),(0.6,-0.9),
 (0.62,-1.6),(0.64,-0.3),(0.67,-2.4),(0.71,-1.2),(0.73,-2.4),(0.03,-2.7),(0.08,-2.1),(0.13,-3.6),(0.16,-0.9),
 (0.21,-2.7),(0.24,-3.5),(0.28,-2.2),(0.31,-2.7),(0.35,-2.4),(0.4,-3.2),(0.43,-1.6),(0.48,-1.9),(0.52,-2.6),
 (0.58,-2.4),(0.64,-2.7),(0.69,-0.4),(-0.03,-3.0),(-0.09,-2.0),(0.11,-1.6),(0.26,-3.2),(0.33,-1.5),(0.45,-2.3),
 (0.5,-0.2),(0.55,0.4),(0.6,0.2),(0.36,-3.0),(0.07,-2.3),(0.19,-2.3),(0.29,-1.6),(0.4,-0.6),(0.14,-2.7),
 (0.23,-1.8),(0.31,-2.1),(0.42,-2.8),(0.05,-1.4),(0.18,-1.9),(0.27,-2.5),(0.33,-3.4),(0.12,-0.3),(0.38,-1.4),
 (-0.07,-2.8),(-0.05,-1.6),(-0.02,-2.4),(0.0,-3.4),(0.01,-1.9),(0.03,-2.9),(0.04,-3.8),(0.05,-2.2),(0.06,-1.3),
 (0.07,-3.4),(0.08,-2.6),(0.09,-4.0),(0.1,-1.5),(0.11,-3.0),(0.12,-2.0),(0.13,-3.9),(0.14,-1.1),(0.15,-2.5),
 (0.16,-1.9),(0.17,-3.8),(0.18,-2.9),(0.19,-1.5),(0.2,-2.7),(0.21,-3.5),(0.22,-2.1),(0.23,-0.8),(0.24,-2.9),
 (0.25,-1.9),(0.26,-2.6),(0.27,-3.8),(0.28,-1.6),(0.29,-2.6),(0.3,-1.1),(0.31,-3.2),(0.32,-2.2),(0.33,-2.8),
 (0.34,-1.2),(0.35,-3.6),(0.36,-2.0),(0.37,-1.6),(0.38,-2.7),(0.39,-3.4),(0.4,-1.9),(0.41,-1.1),(0.42,-2.2),
 (0.43,-3.0),(0.44,-0.7),(0.45,-1.6),(0.46,-2.6),(0.47,-1.3),(0.48,-3.2),(0.49,-2.2),(0.5,-1.7),(0.51,-0.6),
 (0.52,-2.0),(0.53,-2.9),(0.54,-1.1),(0.56,-1.7),(0.57,-0.8),(0.59,-2.2),(0.6,-1.4),(0.62,-2.0),(0.63,-0.5),
 (0.65,-1.3),(0.67,-0.9),(0.7,-1.9),(0.72,-0.1),(0.02,-4.6),(0.12,-4.2),(0.26,-4.4),(0.32,-3.9),(0.44,-3.5),
 (-0.1,-3.4),(-0.15,-2.1),(0.06,-0.6),(0.15,-0.3),(0.26,-0.5),(0.35,0.0),(0.45,-0.2),(0.6,-0.2),
 (1.27,-0.38),(1.28,-0.98),(1.29,-1.34),(1.32,-1.82),(1.35,0.7),(1.38,0.34),(1.41,-0.98),(1.43,-0.94),
 (1.45,0.1),(1.48,-0.22),(1.51,0.7),(1.56,0.34),(1.57,-0.22),(1.62,-0.98),(1.63,0.1),(1.69,0.46),(1.72,-0.14),
 (1.74,0.46),(1.77,0.22),(1.79,-0.5),(1.83,0.5),(1.87,0.34),(1.89,1.13),(1.92,0.46),
 (1.26,-0.02),(1.27,0.94),(1.31,1.41),(1.33,1.77),(1.33,2.97),(1.35,3.21),(1.36,1.85),(1.32,-0.98),(1.34,0.34),
 (1.4,1.22),(1.41,-1.7),(1.42,3.09),(1.43,3.45),(1.44,2.61),(1.45,-0.98),(1.46,-0.02),(1.5,1.18),(1.52,2.73),
 (1.52,0.46),(1.54,2.01),(1.55,-0.26),(1.57,2.97),(1.58,1.77),(1.6,1.41),(1.62,-1.06),(1.62,2.85),(1.64,0.82),
 (1.65,1.89),(1.66,1.53),(1.67,1.41),(1.69,3.33),(1.7,1.41),(1.71,0.58),(1.73,1.89),(1.75,3.38),(1.76,1.77),
 (1.78,3.21),(1.79,1.53),(1.8,2.73),(1.83,1.77),(1.85,1.18),(1.89,2.97),(1.9,2.57),(1.91,2.01),(1.92,1.18),
 (1.92,-0.07),(1.93,2.61),(1.93,-1.18),(1.95,1.06),(1.97,7.05),(1.98,1.18),(1.98,-0.46),(1.99,0.82),
 (2.02,0.1),(2.03,-1.18),(2.04,6.38),(2.05,1.13),(2.06,1.94),(2.08,3.38),(2.1,2.18),(2.11,0.26),(2.11,1.41),
 (2.14,5.49),(2.14,3.14),(2.15,-0.07),(2.17,5.06),(2.17,1.18),(2.19,2.57),(2.2,1.65),(2.21,5.25),(2.21,1.77),
 (2.23,2.18),(2.24,0.1),(2.25,3.88),(2.25,3.21),(2.27,1.22),(2.29,3.21),(2.3,0.94),(2.3,-0.5),(2.31,2.01),
 (2.31,-0.02),(2.32,3.5),(2.33,0.82),(2.33,3.86),(2.34,0.82),(2.34,2.61),(2.35,3.57),(2.36,3.98),(2.37,3.02),
 (2.38,2.97),(2.39,8.13),(2.39,5.85),(2.4,3.38),(2.4,2.18),(2.41,1.77),(2.42,1.65),(2.42,2.97),(2.44,1.29),
 (2.44,5.54),(2.45,5.54),(2.45,0.22),(2.45,-0.41),(2.44,4.05),(2.47,3.14),(2.49,2.25),(2.5,1.94),(2.51,4.17),
 (2.52,2.61),(2.53,1.77),(2.54,2.57),(2.55,1.89),(2.56,3.53),(2.57,2.09),(2.58,3.86),(2.58,7.1),(2.59,0.98),
 (2.6,3.57),(2.64,6.45),(2.63,2.97),(2.64,1.41),(2.64,1.06),(2.65,2.18),(2.66,3.62),(2.67,1.41),(2.67,2.49),
 (2.68,2.37),(2.69,2.85),(2.7,2.01),(2.71,4.05),(2.71,1.06),(2.72,3.57),(2.74,6.04),(2.75,2.97),(2.75,3.69),
 (2.76,4.53),(2.77,6.38),(2.77,1.06),(2.78,1.89),(2.79,0.46),(2.8,3.38),(2.81,1.41),(2.83,2.33),(2.83,2.66),
 (2.84,0.41),(2.86,3.57),(2.87,1.06),(2.89,3.38),(2.89,5.13),(2.89,3.93),(2.9,2.81),(2.91,4.82),(2.91,1.77),
 (2.92,2.13),(2.92,6.81),(2.92,3.45),(2.93,2.73),(2.94,4.17),(2.94,0.62),(2.95,6.88),(2.95,4.05),(2.97,2.81),
 (2.98,3.93),(3.0,1.77),(3.01,5.44),(3.02,2.18),(3.04,2.37),(3.05,2.73),(3.06,3.69),(3.07,5.13),(3.09,4.34),
 (3.09,1.94),(3.13,4.72),(3.14,3.57),(3.15,4.05),
 (3.13,4.65),(3.2,6.02),(3.22,5.78),(3.23,5.25),(3.26,9.93),(3.26,8.97),(3.28,6.88),(3.28,4.41),(3.32,2.73),
 (3.33,5.92),(3.33,3.45),(3.35,2.01),(3.36,2.61),(3.37,3.57),(3.38,4.17),(3.39,6.02),(3.4,5.37),(3.41,7.89),
 (3.41,6.88),(3.42,4.96),(3.44,6.59),(3.44,3.21),(3.45,4.29),(3.47,2.85),(3.48,5.49),(3.5,1.89),(3.51,4.17),
 (3.51,4.77),(3.52,9.38),(3.53,3.21),(3.54,2.97),(3.55,4.17),(3.56,6.16),(3.58,9.38),(3.59,4.29),(3.6,6.02),
 (3.62,2.97),(3.6,5.13),(3.63,6.86),(3.64,4.82),(3.65,5.97),(3.67,4.17),(3.69,7.89),(3.7,6.62),(3.7,4.77),
 (3.72,4.53),(3.74,5.01),(3.74,4.0),(3.76,8.08),(3.77,9.52),(3.76,5.01),(3.82,5.01),(3.83,5.13),(3.84,8.13),
 (3.85,5.92),(3.86,3.53),(3.86,4.17),(3.88,1.82),(3.89,5.13),(3.91,3.53),(3.94,8.61),(3.94,6.81),(3.95,4.53),
 (3.96,7.53),(3.97,7.7),(3.98,5.92),(3.99,4.41),(4.02,6.74),(4.03,4.41),(4.06,4.29),(4.18,4.82),(4.26,1.82),
]

panel_titles = ["a. Gulf Stream", "b. Kuroshio", "c. Agulhas", "d. Brazil/Malvinas",
                "e. Antarctic Circumpolar Current"]
slopes = ["-0.84", "1.56", "0.29", "1.35", "1.92"]
r_squared = ["0.36", "0.36", "0.03", "0.46", "0.55"]
fit_x = [0.83, 4.27]
fit_y = [[0.30, -2.55], [-0.35, 4.95], [0.20, 1.20], [-0.30, 4.30], [-0.40, 6.15]]
y_tick_values = [[-4, -2, 0, 2, 4], [-2, 0, 2, 4, 6, 8], [-4, -2, 0, 2, 4],
                 [-2, 0, 2, 4, 6, 8], [-3, 0, 3, 6, 9]]

# ---------------- layout geometry ----------------
W, H = 1191, 796
def px_dom_x(a, b):
    return [a / W, b / W]
def px_dom_y(top, bottom):
    return [1 - bottom / H, 1 - top / H]

panels = [
    dict(data=gulf_stream, xd=px_dom_x(81, 626), yd=px_dom_y(9, 238),
         xr=[-0.63, 4.5], yr=[-4.48, 4.68]),
    dict(data=kuroshio, xd=px_dom_x(653, 1190), yd=px_dom_y(9, 238),
         xr=[-0.63, 4.41], yr=[-3.93, 9.3]),
    dict(data=agulhas, xd=px_dom_x(81, 626), yd=px_dom_y(267, 496),
         xr=[-0.63, 4.5], yr=[-4.6, 5.17]),
    dict(data=brazil_malvinas, xd=px_dom_x(653, 1190), yd=px_dom_y(267, 496),
         xr=[-0.63, 4.41], yr=[-3.69, 9.09]),
    dict(data=acc, xd=px_dom_x(80, 1190), yd=px_dom_y(525, 749),
         xr=[-0.63, 4.455], yr=[-5.48, 10.65]),
]
legend_pos = [
    dict(x=618 / W, y=1 - 16 / H, xanchor="right", yanchor="top"),
    dict(x=1188 / W, y=1 - 230 / H, xanchor="right", yanchor="bottom"),
    dict(x=618 / W, y=1 - 486 / H, xanchor="right", yanchor="bottom"),
    dict(x=1188 / W, y=1 - 487 / H, xanchor="right", yanchor="bottom"),
    dict(x=1188 / W, y=1 - 744 / H, xanchor="right", yanchor="bottom"),
]

FONT = "DejaVu Sans"
SPINE = "#8e8e8e"
fig = go.Figure()
layout = dict(width=W, height=H, margin=dict(l=0, r=0, t=0, b=0),
              paper_bgcolor="white", plot_bgcolor="white", showlegend=True,
              annotations=[])

for i, p in enumerate(panels):
    n = "" if i == 0 else str(i + 1)
    xa, ya = "x" + n, "y" + n
    xs = [pt[0] for pt in p["data"]]
    ys = [pt[1] for pt in p["data"]]
    fig.add_trace(go.Scatter(x=xs, y=ys, mode="markers", xaxis=xa, yaxis=ya,
                             marker=dict(size=6, color="#9b9ba0", line=dict(width=0)),
                             showlegend=False, hoverinfo="skip"))
    leg = "legend" + n
    fig.add_trace(go.Scatter(
        x=fit_x, y=fit_y[i], mode="lines", xaxis=xa, yaxis=ya,
        line=dict(color="#ff1a1a", width=1.6, dash="5px,2.5px"),
        name=f"{slopes[i]} <i>σ</i>/°C, R<sup>2</sup> = {r_squared[i]}, p&lt;0.001",
        legend=leg, showlegend=True))
    layout["xaxis" + n] = dict(domain=p["xd"], range=p["xr"], anchor=ya,
                               tickvals=x_ticks, showgrid=False, zeroline=False,
                               showline=True, linecolor=SPINE, linewidth=1.3, mirror=True,
                               ticks="outside", ticklen=3, tickcolor=SPINE,
                               tickfont=dict(family=FONT, size=13, color="#262626"))
    layout["yaxis" + n] = dict(domain=p["yd"], range=p["yr"], anchor=xa,
                               tickvals=y_tick_values[i], showgrid=True,
                               gridcolor="#d4d4d4", gridwidth=1, zeroline=False,
                               showline=True, linecolor=SPINE, linewidth=1.3, mirror=True,
                               ticks="outside", ticklen=3, tickcolor=SPINE,
                               tickfont=dict(family=FONT, size=13, color="#262626"))
    layout[leg] = dict(**legend_pos[i], bgcolor="rgba(255,255,255,0.85)",
                       bordercolor="#d6d6d6", borderwidth=1,
                       font=dict(family=FONT, size=16.5, color="#1a1a1a"),
                       itemwidth=30, tracegroupgap=0)
    layout["annotations"].append(dict(
        text=f"<b>{panel_titles[i]}</b>", xref=xa + " domain", yref=ya + " domain",
        x=0.02 if i != 4 else 0.021, y=0.926, xanchor="left", yanchor="middle",
        showarrow=False, font=dict(family=FONT, size=17.8, color="#1a1a1a")))

layout["annotations"].append(dict(
    text="Eddy kinetic energy (<i>σ</i> from mean)", xref="paper", yref="paper",
    x=25 / W, y=1 - 405 / H, textangle=-90, showarrow=False,
    xanchor="center", yanchor="middle", font=dict(family=FONT, size=25, color="#1a1a1a")))
layout["annotations"].append(dict(
    text="Mean annual surface temperature anomaly (°C)", xref="paper", yref="paper",
    x=638 / W, y=0, showarrow=False,
    xanchor="center", yanchor="bottom", font=dict(family=FONT, size=19.5, color="#1a1a1a")))

fig.update_layout(**layout)
fig.write_html("out.html")
